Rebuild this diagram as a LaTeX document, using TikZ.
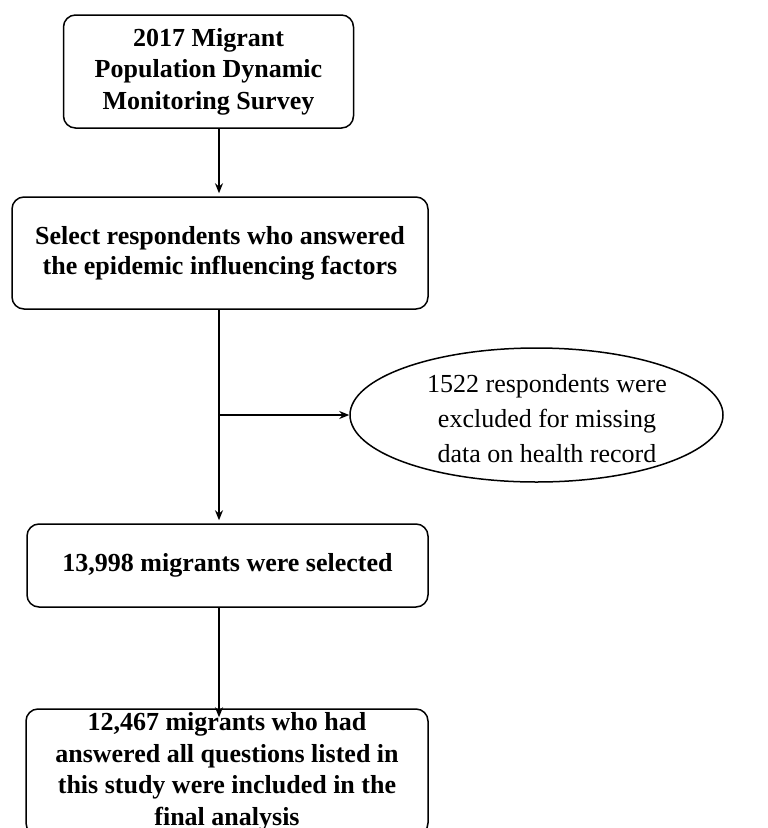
\documentclass[tikz,border=0pt]{standalone}
\usepackage{fontspec}
\setmainfont{Liberation Serif}
\usetikzlibrary{shapes.geometric,arrows.meta}
\tikzset{
  box/.style={draw, line width=1.5pt, rounded corners=12pt, align=center, inner sep=0pt,
    font={\fontsize{26}{30}\selectfont\bfseries}},
  arr/.style={line width=1.5pt, -{Stealth[length=10pt,width=8pt]}},
  oval/.style={draw, ellipse, line width=1.5pt, inner sep=0pt},
  ovaltext/.style={align=center, inner sep=0pt, font={\fontsize{26}{35}\selectfont}}
}
\begin{document}
\begin{tikzpicture}[x=1pt,y=-1pt]
\useasboundingbox (0,0) rectangle (768,828);
\clip (0,0) rectangle (768,828);
\fill[white] (0,0) rectangle (768,828);
\coordinate (ax) at (219,0);
\node[box, minimum width=290pt, minimum height=113pt, font={\fontsize{26}{31.5}\selectfont\bfseries}] (n1) at (208.5,71.5) {2017 Migrant\\Population Dynamic\\Monitoring Survey};
\node[box, minimum width=416pt, minimum height=112pt] (n2) at (220,253) {Select respondents who answered\\the epidemic influencing factors};
\node[oval, minimum width=373pt, minimum height=134pt] (ell) at (536.5,415) {};
\node[ovaltext] (elltxt) at (547,419) {1522 respondents were\\excluded for missing\\data on health record};
\node[box, minimum width=401pt, minimum height=83pt] (n3) at (227.5,565.5) {13,998 migrants were selected};
\node[box, minimum width=402pt, minimum height=126pt, font={\fontsize{26}{31.5}\selectfont\bfseries}] (n4) at (227,772) {};
\node[align=center, inner sep=0pt, font={\fontsize{26}{31.5}\selectfont\bfseries}] (n4txt) at (227,772) {12,467 migrants who had\\answered all questions listed in\\this study were included in the\\final analysis};
\coordinate (br) at (219,415);
\draw[arr, shorten >=3pt] (n1.south -| ax) -- (n2.north -| ax);
\draw[arr, shorten >=3pt] (n2.south -| ax) -- (n3.north -| ax);
\draw[arr] (br) -- (ell.west);
\draw[arr, shorten >=-9pt] (n3.south -| ax) -- (n4.north -| ax);
\end{tikzpicture}
\end{document}
